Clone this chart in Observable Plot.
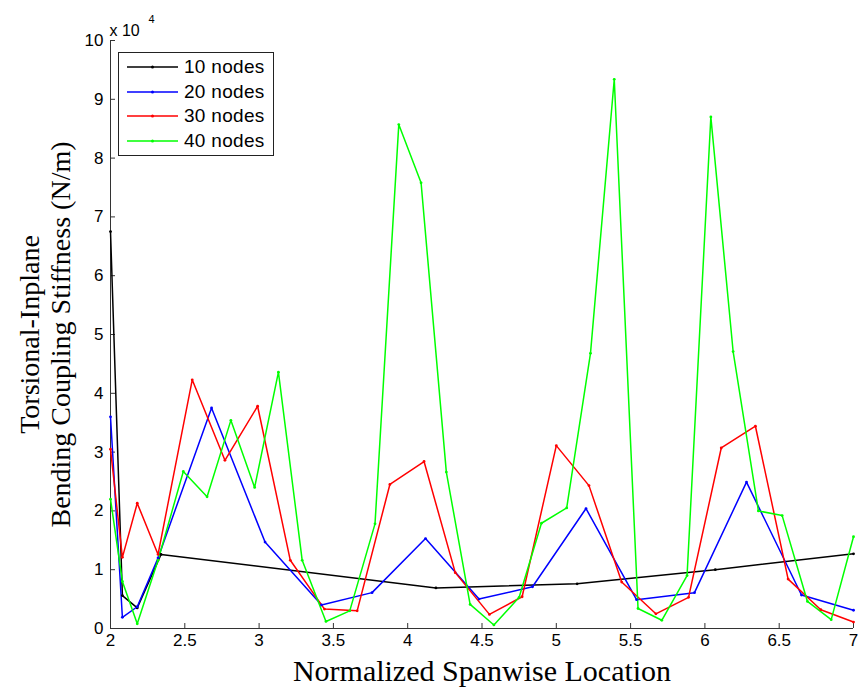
<!DOCTYPE html>
<html>
<head>
<meta charset="utf-8">
<script src="https://cdn.jsdelivr.net/npm/d3@7"></script>
<script src="https://cdn.jsdelivr.net/npm/@observablehq/plot@0.6"></script>
<style>
  html, body { margin: 0; padding: 0; background: #fff; }
  #wrap { position: relative; width: 861px; height: 694px; }
  #legend { position: absolute; left: 118px; top: 52px; width: 154px; height: 102px;
            border: 1px solid #222; background: #fff; font-family: "Liberation Sans", Arial, sans-serif; font-size: 19px; letter-spacing: 0.3px; }
  .row { position: absolute; left: 0; height: 25px; width: 154px; }
  .row svg { position: absolute; left: 8px; top: 0; }
  .row span { position: absolute; left: 65px; top: 0px; line-height: 25px; color: #000; }
</style>
</head>
<body>
<div id="wrap"></div>
<script>
// ---- data (y values in units of 10^4 N/m) ----
const seriesNames = ["10 nodes", "20 nodes", "30 nodes", "40 nodes"];
const seriesColors = ["#000000", "#0000ff", "#ff0000", "#00ff00"];

const x10 = [2.0, 2.08, 2.18, 2.34, 4.19, 5.14, 6.07, 7.0];
const y10 = [6.75, 0.56, 0.35, 1.26, 0.69, 0.76, 1.0, 1.27];

const x20 = [2.0, 2.08, 2.18, 2.32, 2.68, 3.04, 3.42, 3.76, 4.12, 4.48, 4.84, 5.20, 5.54, 5.93, 6.28, 6.65, 7.0];
const y20 = [3.6, 0.19, 0.37, 1.2, 3.75, 1.47, 0.4, 0.61, 1.53, 0.5, 0.71, 2.04, 0.49, 0.61, 2.49, 0.57, 0.31];

const x30 = [2.0, 2.08, 2.18, 2.32, 2.55, 2.77, 2.99, 3.21, 3.44, 3.66, 3.88, 4.11, 4.32, 4.55, 4.77, 5.0, 5.22, 5.44, 5.67, 5.89, 6.11, 6.34, 6.56, 6.78, 7.0];
const y30 = [3.05, 1.21, 2.13, 1.26, 4.23, 2.86, 3.78, 1.16, 0.33, 0.3, 2.45, 2.84, 0.95, 0.24, 0.54, 3.11, 2.43, 0.79, 0.25, 0.53, 3.07, 3.44, 0.84, 0.32, 0.11];

const x40 = [2.0, 2.08, 2.18, 2.32, 2.49, 2.65, 2.81, 2.97, 3.13, 3.29, 3.45, 3.61, 3.78, 3.94, 4.09, 4.26, 4.42, 4.58, 4.75, 4.90, 5.07, 5.23, 5.39, 5.55, 5.71, 5.88, 6.04, 6.19, 6.36, 6.52, 6.69, 6.85, 7.0];
const y40 = [2.2, 0.8, 0.08, 1.16, 2.67, 2.24, 3.54, 2.40, 4.36, 1.16, 0.12, 0.3, 1.78, 8.57, 7.58, 2.66, 0.41, 0.06, 0.53, 1.79, 2.05, 4.68, 9.34, 0.34, 0.14, 0.90, 8.70, 4.71, 2.0, 1.92, 0.46, 0.15, 1.56];

const xTicks = [2, 2.5, 3, 3.5, 4, 4.5, 5, 5.5, 6, 6.5, 7];
const yTicks = [0, 1, 2, 3, 4, 5, 6, 7, 8, 9, 10];
const xLabel = "Normalized Spanwise Location";
const yLabel = "Torsional-Inplane\nBending Coupling Stiffness (N/m)";
const exponentBase = "x 10";
const exponentPower = "4";

// ---- build table ----
const xs = [x10, x20, x30, x40];
const ys = [y10, y20, y30, y40];
const rows = [];
seriesNames.forEach((name, i) => {
  xs[i].forEach((x, j) => rows.push({series: name, x, y: ys[i][j]}));
});

const W = 861, H = 694, ML = 110, MR = 8, MT = 40, MB = 66;
const frameW = W - ML - MR, frameH = H - MT - MB;

const chart = Plot.plot({
  width: W, height: H,
  marginLeft: ML, marginRight: MR, marginTop: MT, marginBottom: MB,
  style: {fontFamily: "Liberation Sans, Arial, sans-serif", fontSize: "16px", background: "#fff", color: "#000", overflow: "visible"},
  x: {domain: [2, 7]},
  y: {domain: [0, 10]},
  color: {domain: seriesNames, range: seriesColors},
  marks: [
    Plot.axisX({ticks: xTicks, tickSize: 0, tickPadding: 5, tickFormat: d => String(d), label: null, fontSize: 17}),
    Plot.axisY({ticks: yTicks, tickSize: 0, tickPadding: 7, tickFormat: d => String(d), label: null, fontSize: 17}),
    Plot.tickX(xTicks, {x: d => d, insetTop: frameH - 5, stroke: "#333", strokeWidth: 1}),
    Plot.tickY(yTicks, {y: d => d, insetRight: frameW - 5, stroke: "#333", strokeWidth: 1}),
    Plot.ruleY([0], {stroke: "#333", strokeWidth: 1}),
    Plot.ruleX([2], {stroke: "#333", strokeWidth: 1}),
    Plot.line(rows, {x: "x", y: "y", z: "series", stroke: "series", strokeWidth: 1.5}),
    Plot.dot(rows, {x: "x", y: "y", fill: "series", r: 1.4}),
    Plot.text([xLabel], {frameAnchor: "bottom", dy: 31, lineAnchor: "top", textAnchor: "middle", text: d => d,
      fontFamily: "Liberation Serif, Times New Roman, serif", fontSize: 30, fill: "#000"}),
    Plot.text([yLabel], {frameAnchor: "left", dx: -66, rotate: -90, textAnchor: "middle", lineAnchor: "middle", lineHeight: 1.1, text: d => d,
      fontFamily: "Liberation Serif, Times New Roman, serif", fontSize: 28, fill: "#000"}),
    Plot.text([exponentBase], {frameAnchor: "top-left", dx: -1, dy: -16, textAnchor: "start", text: d => d, fontSize: 16, fill: "#000"}),
    Plot.text([exponentPower], {frameAnchor: "top-left", dx: 38, dy: -25, textAnchor: "start", text: d => d, fontSize: 11, fill: "#000"})
  ]
});

const wrap = document.getElementById("wrap");
wrap.appendChild(chart);

// legend (HTML overlay)
const legend = document.createElement("div");
legend.id = "legend";
seriesNames.forEach((name, i) => {
  const row = document.createElement("div");
  row.className = "row";
  row.style.top = (1 + i * 24.7) + "px";
  row.innerHTML = `<svg width="52" height="25"><line x1="0" y1="13" x2="51" y2="13" stroke="${seriesColors[i]}" stroke-width="1.5"/><circle cx="25.5" cy="13" r="1.5" fill="${seriesColors[i]}"/></svg><span>${name}</span>`;
  legend.appendChild(row);
});
wrap.appendChild(legend);
</script>
</body>
</html>
